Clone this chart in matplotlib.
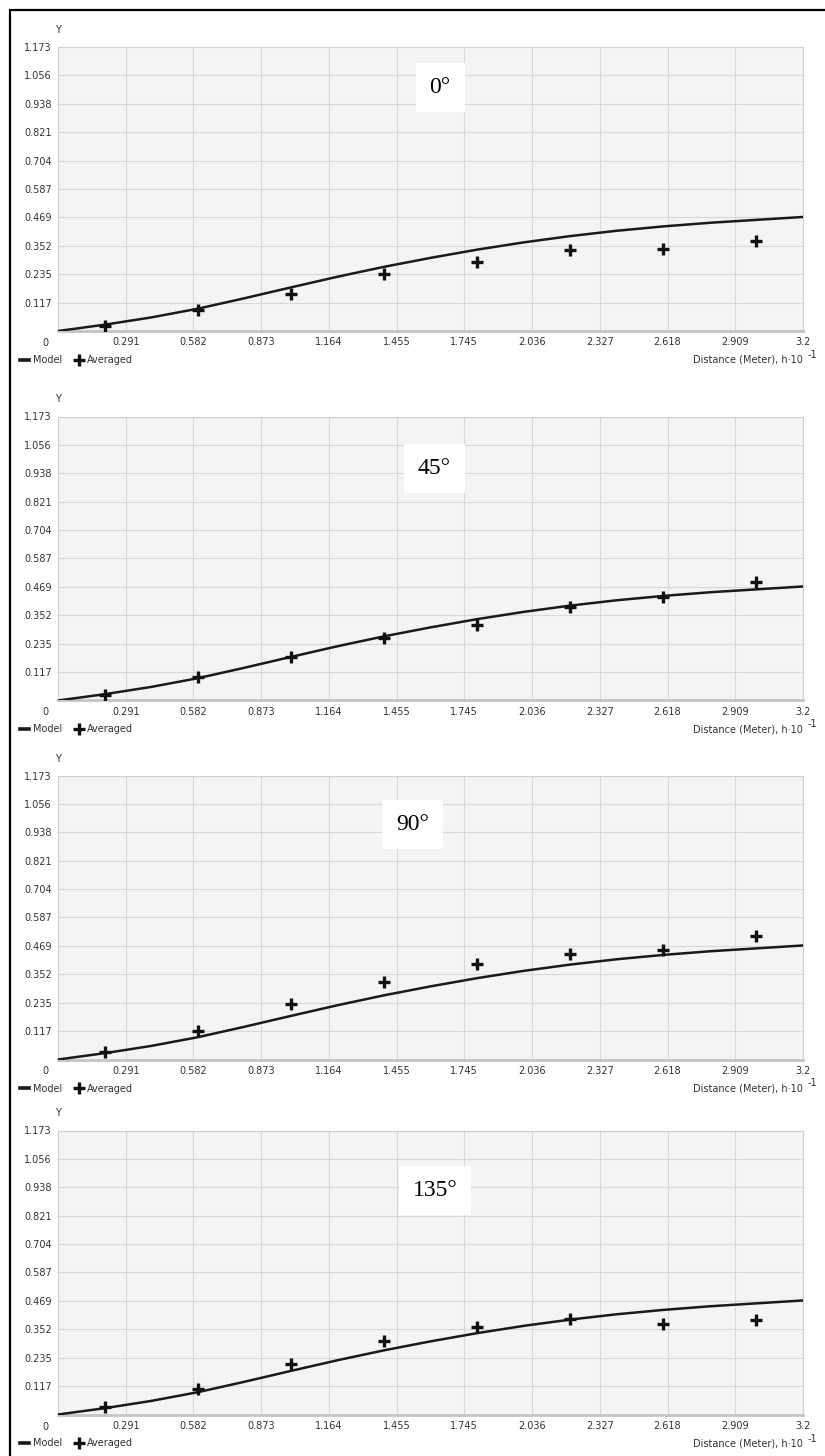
import matplotlib.pyplot as plt
from matplotlib.patches import Rectangle

# averaged experimental points, lag distance (h*10^-1 m)
lag = [0.2, 0.6, 1.0, 1.4, 1.8, 2.2, 2.6, 3.0]

avg_0 = [0.022, 0.087, 0.152, 0.235, 0.286, 0.335, 0.339, 0.373]
avg_45 = [0.023, 0.096, 0.178, 0.260, 0.312, 0.388, 0.429, 0.491]
avg_90 = [0.030, 0.118, 0.228, 0.321, 0.393, 0.434, 0.452, 0.511]
avg_135 = [0.030, 0.104, 0.209, 0.304, 0.363, 0.395, 0.373, 0.391]

directions = ['0°', '45°', '90°', '135°']
averaged = [avg_0, avg_45, avg_90, avg_135]

# fitted model curve (same for every direction)
model_h = [0.0, 0.2, 0.4, 0.6, 0.8, 1.0, 1.2, 1.4, 1.6, 1.8,
           2.0, 2.2, 2.4, 2.6, 2.8, 3.0, 3.2]
model_y = [0.0, 0.026, 0.056, 0.092, 0.135, 0.180, 0.224, 0.265, 0.302, 0.336,
           0.366, 0.392, 0.414, 0.432, 0.447, 0.459, 0.471]

x_ticks = [0.291, 0.582, 0.873, 1.164, 1.455, 1.745, 2.036, 2.327, 2.618, 2.909, 3.2]
x_labels = ['0.291', '0.582', '0.873', '1.164', '1.455', '1.745', '2.036',
            '2.327', '2.618', '2.909', '3.2']
y_ticks = [0.117, 0.235, 0.352, 0.469, 0.587, 0.704, 0.821, 0.938, 1.056, 1.173]
y_labels = ['0.117', '0.235', '0.352', '0.469', '0.587', '0.704', '0.821',
            '0.938', '1.056', '1.173']

W, H = 825, 1456
fig = plt.figure(figsize=(W / 100, H / 100), dpi=100)

# panel layout in pixels
left, width, height = 58, 745, 284
bottoms = [331, 700.5, 1059.5, 1414.5]
label_pos = [(0.513, 0.856), (0.505, 0.817), (0.476, 0.826), (0.506, 0.790)]

txt = '#333333'

for bot, avg, name, (lx, ly) in zip(bottoms, averaged, directions, label_pos):
    ax = fig.add_axes([left / W, 1 - bot / H, width / W, height / H])
    ax.set_facecolor('#f4f4f4')

    ax.plot(model_h, model_y, color='#1a1a1a', lw=1.8, label='Model', zorder=3)
    ax.plot(lag, avg, ls='none', marker='+', ms=8, mew=2.4,
            color='#111111', label='Averaged', zorder=4)

    ax.set_xlim(0, 3.2)
    ax.set_ylim(0, 1.173)
    ax.set_xticks(x_ticks)
    ax.set_xticklabels(x_labels)
    ax.set_yticks(y_ticks)
    ax.set_yticklabels(y_labels)
    ax.tick_params(length=0, labelsize=7, colors=txt, pad=4.5)
    ax.grid(True, color='#d8d8d8', lw=0.8)
    ax.set_axisbelow(True)
    for s in ['left', 'top', 'right']:
        ax.spines[s].set_color('#d0d0d0')
        ax.spines[s].set_linewidth(0.8)
    ax.spines['bottom'].set_color('#c4c4c4')
    ax.spines['bottom'].set_linewidth(2)

    # corner zero and axis name
    ax.text(-9 / width, -12 / height, '0', transform=ax.transAxes,
            ha='right', va='center', fontsize=7, color=txt)
    ax.text(0, 1 + 17 / height, 'Y', transform=ax.transAxes,
            ha='center', va='center', fontsize=7, color=txt)

    ax.text(lx, ly, name, transform=ax.transAxes, ha='center', va='center',
            family='Liberation Serif', fontsize=17, color='black',
            bbox=dict(facecolor='white', edgecolor='none', pad=10))

    ax.text(1.0, -29 / height, 'Distance (Meter), h·10', transform=ax.transAxes,
            ha='right', va='center', fontsize=7, color=txt)
    ax.text(1.0 + 5 / width, -24 / height, '-1', transform=ax.transAxes,
            ha='left', va='center', fontsize=7, color=txt)

    leg = ax.legend(loc='center left', bbox_to_anchor=((20 - left) / width, -29 / height),
                    ncol=2, frameon=False, fontsize=7, handlelength=0.9,
                    handletextpad=0.4, columnspacing=1.3, borderpad=0,
                    borderaxespad=0, labelcolor=txt)
    leg.get_lines()[0].set_linewidth(2.6)

# outer frame
fig.add_artist(Rectangle((10 / W, -0.05), 2, 1 - 10 / H + 0.05,
                         transform=fig.transFigure, fill=False,
                         edgecolor='black', lw=1.6))

fig.savefig('out.png', dpi=100)
